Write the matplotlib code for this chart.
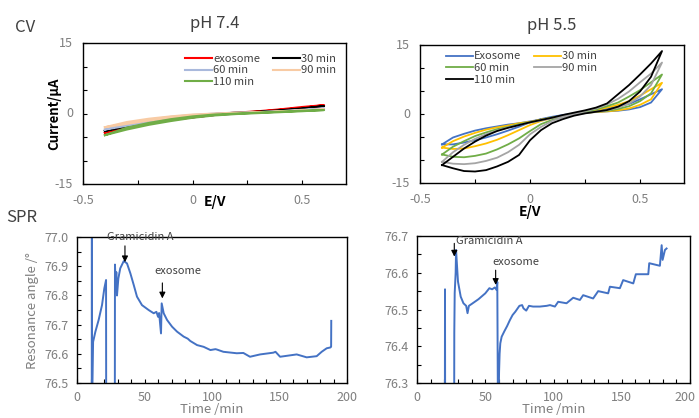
import numpy as np
import matplotlib
matplotlib.use("Agg")
import matplotlib.pyplot as plt
import matplotlib.transforms as mtrans
from matplotlib.ticker import MultipleLocator, FormatStrFormatter

plt.rcParams['font.family'] = ['Noto Sans CJK JP', 'DejaVu Sans']

# ---- CV data (E in V, current in uA), lower and upper branch of each loop
E74 = [-0.4, -0.3, -0.2, -0.1, 0.0, 0.1, 0.2, 0.3, 0.4, 0.5, 0.6]

cv74_names = ['exosome', '30 min', '60 min', '90 min', '110 min']
cv74_colors = ['#ff0000', '#000000', '#a9b9dc', '#f8cba4', '#70ad47']
cv74_lo = [
    [-4.1, -3.1, -2.2, -1.4, -0.8, -0.3, 0.1, 0.4, 0.8, 1.2, 1.8],
    [-3.7, -2.8, -2.0, -1.3, -0.8, -0.3, 0.0, 0.3, 0.6, 1.0, 1.6],
    [-3.4, -2.6, -1.8, -1.2, -0.7, -0.3, 0.0, 0.2, 0.4, 0.7, 1.1],
    [-2.9, -2.2, -1.5, -0.9, -0.5, -0.2, 0.0, 0.2, 0.4, 0.6, 0.9],
    [-4.6, -3.4, -2.4, -1.6, -0.9, -0.4, -0.1, 0.1, 0.3, 0.5, 0.75],
]
cv74_hi = [
    [-4.1, -2.7, -1.7, -1.0, -0.5, -0.1, 0.2, 0.5, 0.9, 1.4, 1.8],
    [-3.7, -2.4, -1.5, -0.9, -0.4, -0.1, 0.2, 0.4, 0.7, 1.1, 1.6],
    [-3.4, -2.2, -1.3, -0.7, -0.3, 0.0, 0.2, 0.3, 0.5, 0.8, 1.1],
    [-2.9, -1.8, -1.1, -0.6, -0.2, 0.0, 0.2, 0.3, 0.5, 0.7, 0.9],
    [-4.6, -3.0, -2.0, -1.2, -0.6, -0.2, 0.0, 0.2, 0.4, 0.6, 0.75],
]

E55 = [-0.4, -0.35, -0.3, -0.25, -0.2, -0.15, -0.1, -0.05, 0.0, 0.05, 0.1,
       0.15, 0.2, 0.25, 0.3, 0.35, 0.4, 0.45, 0.5, 0.55, 0.6]

cv55_names = ['Exosome', '30 min', '60 min', '90 min', '110 min']
cv55_colors = ['#4472c4', '#ffc000', '#70ad47', '#a5a5a5', '#000000']
cv55_lo = [
    [-6.6, -6.6, -6.2, -5.7, -5.1, -4.4, -3.6, -2.75, -1.8, -1.1, -0.6,
     -0.2, 0.07, 0.3, 0.43, 0.58, 0.72, 1.0, 1.5, 2.5, 5.4],
    [-7.3, -7.6, -7.5, -7.0, -6.4, -5.6, -4.6, -3.5, -2.4, -1.5, -0.9,
     -0.4, 0.0, 0.3, 0.43, 0.58, 0.8, 1.2, 2.0, 3.2, 6.8],
    [-8.8, -9.3, -9.4, -9.1, -8.6, -7.7, -6.6, -5.3, -3.7, -2.2, -1.3,
     -0.6, -0.1, 0.3, 0.5, 0.7, 1.1, 1.7, 2.8, 4.5, 8.6],
    [-10.4, -10.8, -10.9, -10.7, -10.2, -9.5, -8.3, -6.7, -4.4, -2.8, -1.5,
     -0.7, -0.2, 0.2, 0.5, 0.8, 1.4, 2.3, 3.8, 6.3, 11.2],
    [-11.1, -11.8, -12.4, -12.5, -12.2, -11.4, -10.4, -8.9, -5.7, -3.5, -2.0,
     -1.1, -0.36, 0.14, 0.5, 0.87, 1.6, 2.8, 4.9, 8.1, 13.7],
]
cv55_hi = [
    [-6.6, -5.1, -4.3, -3.6, -3.1, -2.7, -2.3, -2.0, -1.6, -1.2, -0.8,
     -0.4, 0.07, 0.5, 0.8, 1.2, 1.6, 2.2, 3.2, 4.3, 5.4],
    [-7.3, -5.9, -4.9, -4.1, -3.4, -2.9, -2.5, -2.0, -1.7, -1.2, -0.8,
     -0.4, 0.07, 0.5, 0.87, 1.4, 2.0, 2.8, 4.0, 5.4, 6.8],
    [-8.8, -7.1, -5.9, -4.8, -4.0, -3.3, -2.8, -2.2, -1.8, -1.3, -0.8,
     -0.4, 0.07, 0.5, 1.0, 1.7, 2.5, 3.8, 5.2, 6.9, 8.6],
    [-10.4, -8.3, -6.7, -5.4, -4.4, -3.6, -2.9, -2.4, -1.9, -1.4, -0.9,
     -0.4, 0.14, 0.65, 1.2, 2.1, 3.3, 4.9, 6.9, 8.8, 11.2],
    [-11.1, -9.3, -7.5, -6.0, -4.7, -3.7, -3.0, -2.4, -1.8, -1.3, -0.8,
     -0.2, 0.3, 0.8, 1.4, 2.3, 4.3, 6.3, 8.6, 11.0, 13.7],
]

# ---- SPR data (time in min, resonance angle in deg)
spr74_t = [10.9, 11.0, 11.1, 11.9, 13.6, 16.0, 18.5, 20.2, 21.5, 21.6, 21.7,
           28.0, 28.1, 28.6, 29.1, 29.6, 30.6, 32.0, 34.6, 37.0, 39.5, 42.0,
           44.4, 48.1, 53.1, 56.8, 58.8, 60.0, 60.8, 62.2, 62.7, 64.2, 66.7,
           70.4, 74.1, 79.0, 82.0, 83.9, 88.9, 93.8, 98.8, 102.5, 103.4,
           108.4, 118.3, 123.2, 128.1, 135.6, 145.4, 147.0, 150.4, 162.7,
           170.1, 177.5, 181.2, 184.9, 187.8, 188.2, 188.3]
spr74_y = [76.40, 77.10, 76.40, 76.641, 76.676, 76.716, 76.767, 76.824,
           76.853, 76.40, 76.40, 76.40, 76.906, 76.84, 76.88, 76.80, 76.858,
           76.893, 76.918, 76.91, 76.876, 76.836, 76.796, 76.767, 76.75,
           76.739, 76.744, 76.727, 76.74, 76.67, 76.773, 76.739, 76.716,
           76.693, 76.676, 76.659, 76.652, 76.644, 76.63, 76.624, 76.613,
           76.616, 76.615, 76.607, 76.602, 76.603, 76.59, 76.598, 76.604,
           76.607, 76.59, 76.598, 76.588, 76.592, 76.607, 76.619, 76.622,
           76.625, 76.713]

spr55_t = [20.4, 20.5, 20.6, 27.2, 27.3, 27.6, 28.3, 28.6, 30.0, 32.0, 34.0,
           36.0, 37.0, 38.0, 40.0, 45.0, 50.0, 53.0, 55.0, 57.0, 58.3, 58.8,
           59.3, 59.6, 60.1, 60.5, 61.0, 62.0, 64.0, 66.0, 68.0, 70.0, 72.0,
           75.0, 77.0, 78.0, 80.0, 82.0, 85.0, 90.0, 95.0, 97.4, 101.0,
           103.4, 109.5, 114.4, 119.3, 121.7, 129.0, 132.7, 140.0, 141.3,
           148.6, 151.0, 158.4, 160.3, 169.4, 170.1, 177.9, 179.2, 179.9,
           181.6, 182.8]
spr55_y = [76.20, 76.555, 76.20, 76.20, 76.437, 76.545, 76.60, 76.662,
           76.576, 76.535, 76.517, 76.51, 76.49, 76.51, 76.515, 76.528,
           76.544, 76.558, 76.555, 76.56, 76.553, 76.575, 76.20, 76.20,
           76.33, 76.38, 76.408, 76.426, 76.441, 76.455, 76.471, 76.485,
           76.494, 76.51, 76.512, 76.503, 76.497, 76.51, 76.508, 76.508,
           76.51, 76.512, 76.508, 76.521, 76.517, 76.532, 76.526, 76.539,
           76.530, 76.55, 76.544, 76.562, 76.558, 76.58, 76.571, 76.596,
           76.596, 76.626, 76.619, 76.675, 76.635, 76.662, 76.666]

time_ticks = [0, 50, 100, 150, 200]

grey = '#7f7f7f'
txt = '#404040'
blue = '#4472c4'

fig = plt.figure(figsize=(6.99, 4.18), dpi=100)


def style_axes(ax):
    for s in ax.spines.values():
        s.set_color('black')
        s.set_linewidth(1.0)
    ax.tick_params(which='both', direction='in', colors='black',
                   labelcolor=grey, labelsize=9, length=3, width=0.8)


def cv_panel(rect, E, lo, hi, names, colors, lw, leg_anchor, title):
    ax = fig.add_axes(rect)
    for i in range(len(names)):
        xs = E + E[::-1]
        ys = lo[i] + hi[i][::-1]
        ax.plot(xs, ys, color=colors[i], lw=lw, label=names[i])
    ax.set_xlim(-0.5, 0.7)
    ax.set_ylim(-15, 15)
    ax.xaxis.set_major_locator(MultipleLocator(0.25))
    ax.yaxis.set_major_locator(MultipleLocator(5))
    ax.set_xticklabels([])
    ax.set_yticklabels([])
    style_axes(ax)
    for v in [-0.5, 0, 0.5]:
        ax.text(v, -18.5, '%g' % v, ha='center', va='center',
                fontsize=9, color=grey)
    for v in [-15, 0, 15]:
        ax.text(-0.545, v, '%g' % v, ha='right', va='center',
                fontsize=9, color=grey)
    # legend laid out row by row: 1st/2nd, 3rd/4th, 5th
    order = [0, 2, 4, 1, 3]
    h, l = ax.get_legend_handles_labels()
    leg = ax.legend([h[k] for k in order], [l[k] for k in order], ncol=2,
                    loc='upper left', bbox_to_anchor=leg_anchor, frameon=False,
                    fontsize=8, handlelength=2.4, handletextpad=0.1,
                    columnspacing=1.2, labelspacing=0.15, borderaxespad=0,
                    borderpad=0.2)
    for t in leg.get_texts():
        t.set_color(txt)
    ax.set_title(title, fontsize=12, color=txt, pad=11)
    return ax


ax1 = cv_panel([0.1187, 0.5598, 0.3763, 0.337], E74, cv74_lo, cv74_hi,
               cv74_names, cv74_colors, 1.5, (0.38, 0.94), 'pH 7.4')
ax1.set_ylabel('Current/\u03bcA', fontsize=9.5, fontweight='bold', labelpad=12)
ax1.text(0.05, -18.8, 'E/V', ha='left', va='center', fontsize=10,
         fontweight='bold')
ax2 = cv_panel([0.6009, 0.5622, 0.3777, 0.330], E55, cv55_lo, cv55_hi,
               cv55_names, cv55_colors, 1.3, (0.09, 0.97), 'pH 5.5')
ax2.text(0.0, -21.2, 'E/V', ha='center', va='center', fontsize=10,
         fontweight='bold')


def spr_panel(rect, t, y, ylim, ylabel):
    ax = fig.add_axes(rect)
    ax.plot(t, y, color=blue, lw=1.4)
    ax.set_xlim(0, 200)
    ax.set_ylim(*ylim)
    ax.set_xticks(time_ticks, [str(v) for v in time_ticks])
    ax.xaxis.set_minor_locator(MultipleLocator(10))
    ax.yaxis.set_major_locator(MultipleLocator(0.1))
    ax.yaxis.set_minor_locator(MultipleLocator(0.05))
    ax.yaxis.set_major_formatter(FormatStrFormatter('%.1f'))
    style_axes(ax)
    ax.tick_params(which='major', labelsize=9, pad=6)
    ax.set_xlabel('Time /min', fontsize=9.5, color=grey, labelpad=-1)
    if ylabel:
        ax.set_ylabel(ylabel, fontsize=9.5, color=grey, labelpad=4)
    return ax


ax3 = spr_panel([0.1102, 0.0837, 0.3863, 0.349], spr74_t, spr74_y,
                (76.5, 77.0), 'Resonance angle /\u00b0')
ax4 = spr_panel([0.5966, 0.0837, 0.3906, 0.3517], spr55_t, spr55_y,
                (76.3, 76.7), None)
# keep the last time label inside the figure
last = ax4.get_xticklabels()[-1]
last.set_transform(last.get_transform() +
                   mtrans.ScaledTranslation(-4 / 72, 0, fig.dpi_scale_trans))

arr = dict(arrowstyle='-|>', color='black', lw=0.8, mutation_scale=9,
           shrinkA=0, shrinkB=0)
ax3.annotate('', xy=(35.5, 76.914), xytext=(35.5, 76.97), arrowprops=arr)
ax3.text(47, 76.985, 'Gramicidin A', ha='center', va='bottom', fontsize=8,
         color=txt)
ax3.annotate('', xy=(63.2, 76.79), xytext=(63.2, 76.843), arrowprops=arr)
ax3.text(75, 76.885, 'exosome', ha='center', va='center', fontsize=8,
         color=txt)
ax4.annotate('', xy=(27.3, 76.644), xytext=(27.3, 76.68), arrowprops=arr)
ax4.text(28.5, 76.687, 'Gramicidin A', ha='left', va='center', fontsize=8,
         color=txt)
ax4.annotate('', xy=(57.6, 76.567), xytext=(57.6, 76.607), arrowprops=arr)
ax4.text(55, 76.629, 'exosome', ha='left', va='center', fontsize=8,
         color=txt)

fig.text(25 / 699, 1 - 28 / 418, 'CV', ha='center', va='center',
         fontsize=12, color=txt)
fig.text(22 / 699, 1 - 217 / 418, 'SPR', ha='center', va='center',
         fontsize=12, color=txt)

fig.savefig('out.png', dpi=100)
